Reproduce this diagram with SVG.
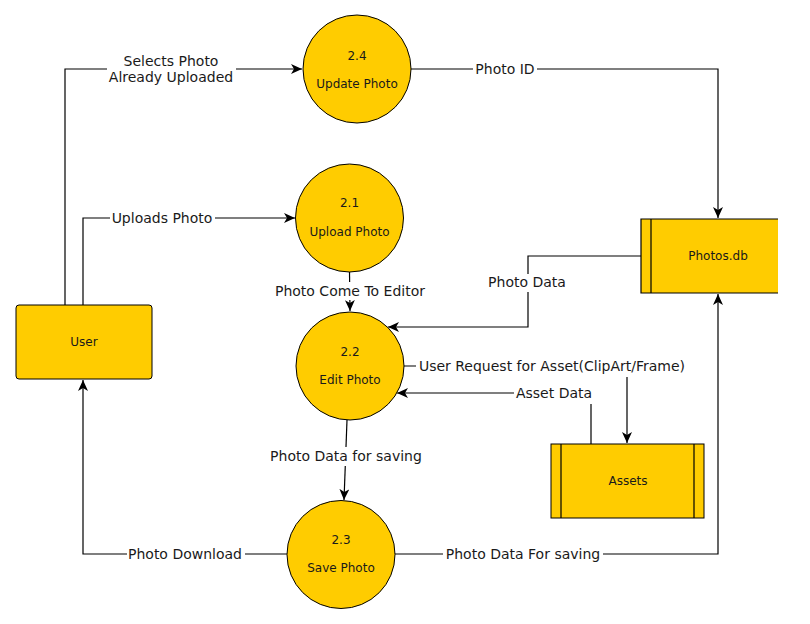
<svg xmlns="http://www.w3.org/2000/svg" width="810" height="624" viewBox="0 0 810 624">
<style>
.node{fill:#FFCC00;stroke:#000;stroke-width:1}
.nt{font-family:"DejaVu Sans",sans-serif;font-size:12px;fill:#1a1a1a;text-anchor:middle;dominant-baseline:central}
.edge{fill:none;stroke:#000;stroke-width:1.2}
.lb{fill:#fff}
.lt{font-family:"DejaVu Sans",sans-serif;font-size:14px;fill:#1a1a1a;text-anchor:middle;dominant-baseline:central}
</style>
<defs>
<marker id="arr" markerUnits="userSpaceOnUse" markerWidth="12" markerHeight="10" viewBox="0 0 12 10" refX="11" refY="5" orient="auto">
<path d="M0,0 L11,5 L0,10 L3,5 Z" fill="#000"/>
</marker>
</defs>
<rect width="810" height="624" fill="#fff"/>
<g id="connectors">
<polyline class="edge" points="65,305 65,69 302,69" marker-end="url(#arr)"/>
<polyline class="edge" points="83,305 83,218 295,218" marker-end="url(#arr)"/>
<polyline class="edge" points="411,69 718,69 718,218" marker-end="url(#arr)"/>
<polyline class="edge" points="349.5,272 350,311" marker-end="url(#arr)"/>
<polyline class="edge" points="641,256 528,256 528,327 388,327" marker-end="url(#arr)"/>
<polyline class="edge" points="404,366 627,366 627,443" marker-end="url(#arr)"/>
<polyline class="edge" points="591,444 591,393 397,393" marker-end="url(#arr)"/>
<polyline class="edge" points="347,420 344,500" marker-end="url(#arr)"/>
<polyline class="edge" points="287,554 83,554 83,380" marker-end="url(#arr)"/>
<polyline class="edge" points="395,554 718,554 718,294" marker-end="url(#arr)"/>
<rect class="lb" x="107" y="53" width="129" height="32"/>
<text class="lt" x="171" y="61">Selects Photo</text>
<text class="lt" x="171" y="77">Already Uploaded</text>
<rect class="lb" x="110" y="210" width="105" height="16"/>
<text class="lt" x="162" y="218">Uploads Photo</text>
<rect class="lb" x="473" y="61" width="64" height="16"/>
<text class="lt" x="505" y="69">Photo ID</text>
<rect class="lb" x="273" y="282" width="155" height="18"/>
<text class="lt" x="350" y="291">Photo Come To Editor</text>
<rect class="lb" x="486" y="274" width="82" height="18"/>
<text class="lt" x="527" y="282">Photo Data</text>
<rect class="lb" x="416" y="358" width="272" height="19"/>
<text class="lt" x="552" y="366">User Request for Asset(ClipArt/Frame)</text>
<rect class="lb" x="514" y="385" width="80" height="19"/>
<text class="lt" x="554" y="393">Asset Data</text>
<rect class="lb" x="268" y="447" width="155" height="19"/>
<text class="lt" x="346" y="456">Photo Data for saving</text>
<rect class="lb" x="127" y="546" width="118" height="16"/>
<text class="lt" x="185" y="554">Photo Download</text>
<rect class="lb" x="443" y="546" width="160" height="16"/>
<text class="lt" x="523" y="554">Photo Data For saving</text>
</g>
<g id="user">
<rect class="node" x="16" y="305" width="136" height="74" rx="3"/>
<text class="nt" x="84" y="342">User</text>
</g>
<g id="p24">
<circle class="node" cx="357" cy="69" r="54"/>
<text class="nt" x="357" y="56">2.4</text>
<text class="nt" x="357" y="84">Update Photo</text>
</g>
<g id="p21">
<circle class="node" cx="349.5" cy="218" r="54"/>
<text class="nt" x="349.5" y="203">2.1</text>
<text class="nt" x="349.5" y="232">Upload Photo</text>
</g>
<g id="p22">
<circle class="node" cx="350" cy="366" r="54"/>
<text class="nt" x="350" y="352">2.2</text>
<text class="nt" x="350" y="380">Edit Photo</text>
</g>
<g id="p23">
<circle class="node" cx="341" cy="554.5" r="54"/>
<text class="nt" x="341" y="540">2.3</text>
<text class="nt" x="341" y="568">Save Photo</text>
</g>
<g id="photosdb">
<rect x="641" y="219" width="137" height="74" fill="#FFCC00"/>
<path d="M778,219 H641 V293 H778 M651,219 V293" fill="none" stroke="#000" stroke-width="1.2"/>
<text class="nt" x="718" y="256">Photos.db</text>
</g>
<g id="assets">
<rect class="node" x="551" y="444" width="153" height="74" stroke-width="1.2"/>
<path d="M561,444 V518 M694,444 V518" fill="none" stroke="#000" stroke-width="1.2"/>
<text class="nt" x="628" y="481">Assets</text>
</g>
</svg>
